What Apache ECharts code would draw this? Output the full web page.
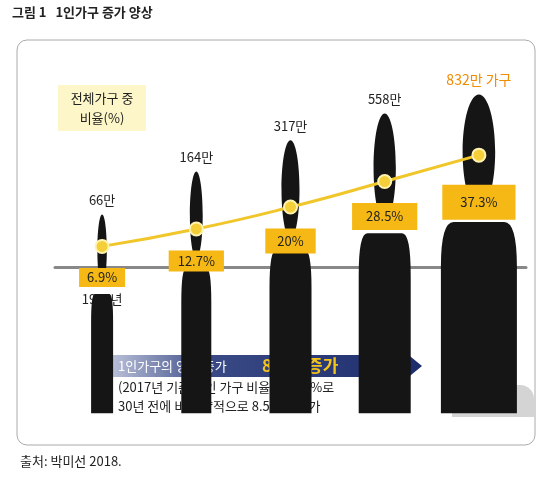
<!DOCTYPE html><html><head><meta charset="utf-8">
<script src="https://cdn.jsdelivr.net/npm/echarts@6/dist/echarts.min.js"></script>
<style>html,body{margin:0;padding:0;background:#fff}#c{width:551px;height:483px}</style></head><body>
<div id="c"></div>
<script>
const years=['1985년','1995년','2005년','2017년','2047년(예측)'];
const households=[66,164,317,558,832];
const countLabels=['66만','164만','317만','558만','832만 가구'];
const shares=[6.9,12.7,20,28.5,37.3];
const shareLabels=['6.9%','12.7%','20%','28.5%','37.3%'];
const iconW=[22,30,42,52,76];
const boxPad=[[3,8],[4,9],[6,12],[7,14],[11,18]];
const F='"Noto Sans CJK KR","Noto Sans",sans-serif';
const person='path://M50,0 C60,0 68,8 68,18 C68,28 60,36 50,36 C40,36 32,28 32,18 C32,8 40,0 50,0 Z M22,40 L78,40 Q92,40 92,54 L92,100 L8,100 L8,54 Q8,40 22,40 Z';
const chart=echarts.init(document.getElementById('c'));
chart.setOption({
animation:false,
textStyle:{fontFamily:F},
grid:{left:55,right:25,top:60,bottom:200},
xAxis:{type:'category',data:years,axisLine:{lineStyle:{color:'#888',width:3}},axisTick:{show:false},
 axisLabel:{color:'#222',fontSize:13,fontFamily:F,margin:10}},
yAxis:[{type:'log',min:15.6,max:1722,show:false,splitLine:{show:false}},
 {type:'value',min:-5.3,max:69,show:false,splitLine:{show:false}}],
series:[
{type:'pictorialBar',yAxisIndex:0,symbol:person,symbolPosition:'end',z:2,
 itemStyle:{color:'#151515'},
 data:households.map((v,i)=>({value:v,symbolSize:[iconW[i],'100%'],
  label:{show:true,position:'top',distance:8,formatter:countLabels[i],fontSize:i==4?14:13,
   color:i==4?'#f08c00':'#222',fontFamily:F}}))},
{type:'line',yAxisIndex:1,data:shares.map((v,i)=>({value:v,
  label:{show:true,position:'bottom',distance:i==4?22:14,formatter:shareLabels[i],
   backgroundColor:'#f5b814',padding:boxPad[i],color:'#222',fontSize:13,fontFamily:F}})),
 smooth:true,z:5,lineStyle:{color:'#f1c62a',width:3},symbol:'circle',symbolSize:13,
 itemStyle:{color:'#f4cf3a',borderColor:'#fff3b0',borderWidth:2}}
],
graphic:[
{type:'text',left:12,top:6,style:{text:'그림 1   1인가구 증가 양상',font:'bold 13px '+F,fill:'#222'}},
{type:'rect',shape:{x:17,y:40,width:518,height:405,r:10},style:{fill:'none',stroke:'#aaa',lineWidth:1},z:-1},
{type:'rect',shape:{x:58,y:85,width:88,height:46},style:{fill:'#fdf6c8'},z:-1},
{type:'text',x:102,y:108,style:{text:'전체가구 중\n비율(%)',font:'13px '+F,fill:'#222',align:'center',verticalAlign:'middle',lineHeight:20}},
{type:'polygon',shape:{points:[[95,355],[400,355],[400,348],[422,366],[400,384],[400,377],[95,377]]},
 style:{fill:{type:'linear',x:0,y:0,x2:1,y2:0,colorStops:[{offset:0,color:'#cfd4e6'},{offset:0.35,color:'#3a4a86'},{offset:1,color:'#1d2c6b'}]}}},
{type:'rect',shape:{x:95,y:356,width:3,height:20},style:{fill:'#1d2c6b'}},
{type:'rect',shape:{x:101,y:356,width:3,height:20},style:{fill:'#1d2c6b'}},
{type:'rect',shape:{x:107,y:356,width:3,height:20},style:{fill:'#1d2c6b'}},
{type:'text',x:118,y:366,style:{text:'1인가구의 양적 증가',font:'13px '+F,fill:'#fff',verticalAlign:'middle'}},
{type:'text',x:262,y:366,style:{text:'8.5배 증가',font:'bold 17px '+F,fill:'#f5c518',verticalAlign:'middle'}},
{type:'text',x:118,y:397,style:{text:'(2017년 기준) 1인 가구 비율은 28.5%로\n30년 전에 비해 양적으로 8.5배로 증가',font:'13px '+F,fill:'#222',verticalAlign:'middle',lineHeight:19}},
{type:'circle',shape:{cx:493,cy:358,r:22},style:{fill:'#d4d4d4'}},
{type:'rect',shape:{x:452,y:385,width:82,height:32,r:[14,14,0,0]},style:{fill:'#d4d4d4'}},
{type:'text',left:20,top:455,style:{text:'출처: 박미선 2018.',font:'13px '+F,fill:'#222'}}
]});
</script></body></html>
